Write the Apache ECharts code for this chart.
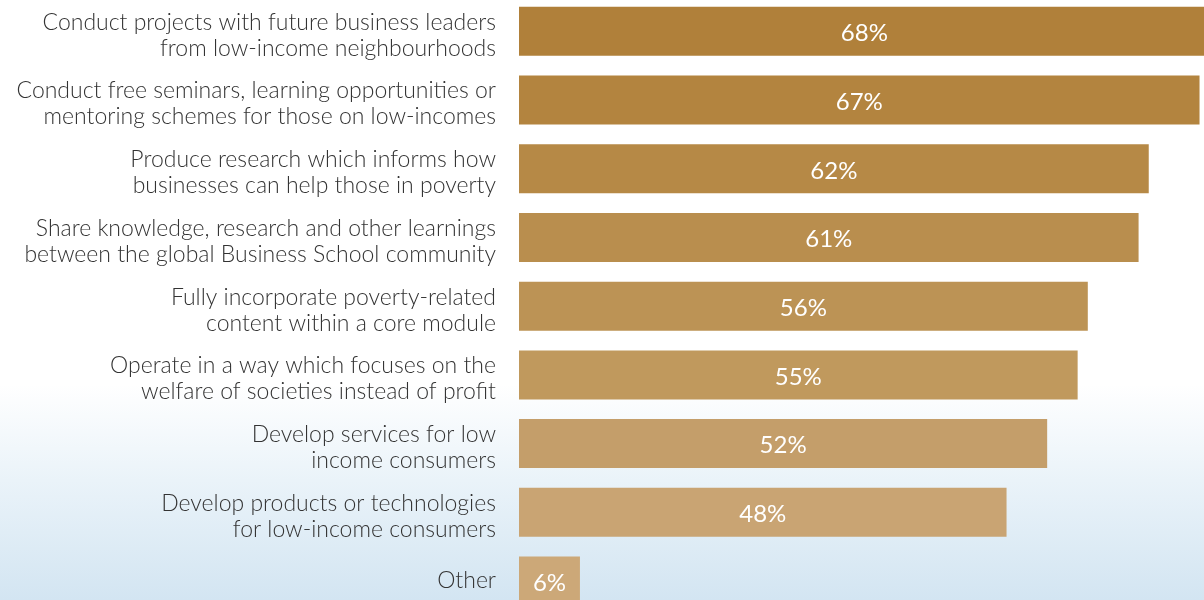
<!DOCTYPE html>
<html><head><meta charset="utf-8">
<script src="https://cdn.jsdelivr.net/npm/echarts@6/dist/echarts.min.js"></script>
<style>html,body{margin:0;padding:0;background:#fff;overflow:hidden;width:1204px;height:600px}#c{width:1240px;height:640px;position:absolute;left:0;top:-10px}</style>
</head><body><div id="c"></div>
<script>
const categories = [
  "Conduct projects with future business leaders\nfrom low-income neighbourhoods",
  "Conduct free seminars, learning opportunities or\nmentoring schemes for those on low-incomes",
  "Produce research which informs how\nbusinesses can help those in poverty",
  "Share knowledge, research and other learnings\nbetween the global Business School community",
  "Fully incorporate poverty-related\ncontent within a core module",
  "Operate in a way which focuses on the\nwelfare of societies instead of profit",
  "Develop services for low\nincome consumers",
  "Develop products or technologies\nfor low-income consumers",
  "Other"
];
const values = [68, 67, 62, 61, 56, 55, 52, 48, 6];
const barColors = ["#B0803A", "#B3843F", "#B68946", "#B98E4E", "#BC9355", "#C0995D", "#C49E6A", "#C9A473", "#CCA878"];

const chart = echarts.init(document.getElementById('c'));
chart.setOption({
  backgroundColor: {
    type: 'linear', x: 0, y: 0, x2: 0, y2: 1,
    colorStops: [
      {offset: 0, color: '#ffffff'},
      {offset: 0.616, color: '#ffffff'},
      {offset: 0.766, color: '#eaf3f9'},
      {offset: 0.953, color: '#d3e5f2'},
      {offset: 1, color: '#d1e4f1'}
    ]
  },
  animation: false,
  grid: {left: 519, right: 10, top: 7, bottom: 14.6, containLabel: false},
  xAxis: {type: 'value', min: 0, max: 70, show: false},
  yAxis: {
    type: 'category', data: categories, inverse: true,
    axisLine: {show: false}, axisTick: {show: false},
    axisLabel: {
      margin: 23, color: '#333333', fontSize: 23, lineHeight: 26,
      fontFamily: 'Lato', fontWeight: 300,
      formatter: function (v) {
        if (v.indexOf('\n') < 0) return v;
        return '{s| }\n' + v.split('\n').map(l => '{t|' + l + '}').join('\n');
      },
      rich: {
        s: {lineHeight: 8, fontSize: 4},
        t: {fontSize: 23, lineHeight: 26, fontFamily: 'Lato', fontWeight: 300, color: '#333333', align: 'right'}
      }
    }
  },
  series: [{
    type: 'bar', barWidth: 49,
    data: values.map((v, i) => ({value: v, itemStyle: {color: barColors[i]}})),
    label: {
      show: true, position: 'inside', formatter: '{c}%', color: '#ffffff',
      fontSize: 24, fontFamily: 'Lato', fontWeight: 'normal', offset: [0, 2]
    }
  }]
});
</script></body></html>
